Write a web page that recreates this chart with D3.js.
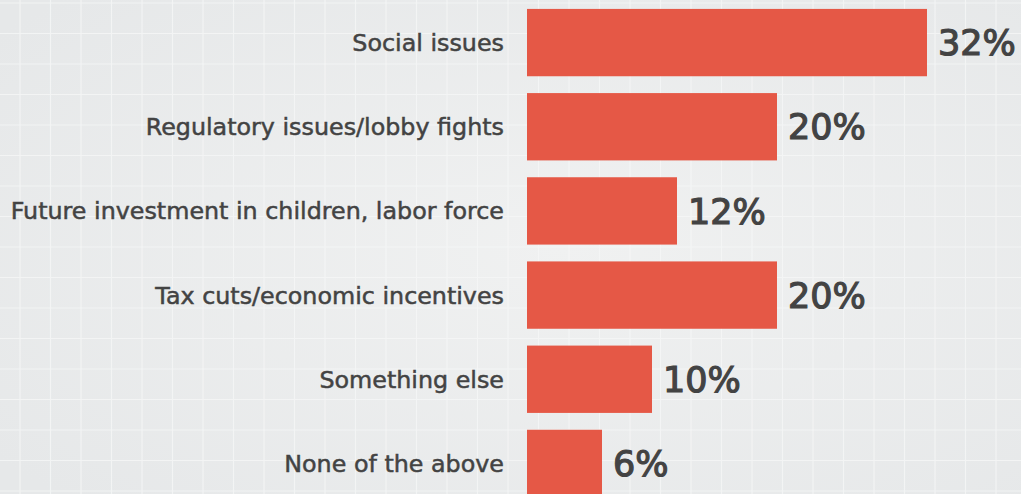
<!DOCTYPE html>
<html><head><meta charset="utf-8">
<script src="https://cdn.jsdelivr.net/npm/d3@7"></script>
<style>body{margin:0;background:#eaeced;overflow:hidden}</style>
</head><body>
<svg id="c" width="1021" height="494"></svg>
<script>
const categories = ["Social issues","Regulatory issues/lobby fights","Future investment in children, labor force","Tax cuts/economic incentives","Something else","None of the above"];
const values = [32, 20, 12, 20, 10, 6];
const valueLabels = ["32%","20%","12%","20%","10%","6%"];

const W = 1021, H = 494;
const svg = d3.select("#c");
const defs = svg.append("defs");
const g0 = defs.append("radialGradient").attr("id","bg").attr("cx","0.55").attr("cy","0.5").attr("r","0.7");
g0.append("stop").attr("offset","0").attr("stop-color","#f0f1f1");
g0.append("stop").attr("offset","1").attr("stop-color","#e6e8e9");
svg.append("rect").attr("width",W).attr("height",H).attr("fill","url(#bg)");

// faint grid
const grid = svg.append("g").attr("stroke","#f6f7f7").attr("stroke-width",1.2).attr("opacity",0.8);
grid.selectAll("line.v").data(d3.range(20, W, 30.5)).join("line")
  .attr("x1",d=>d).attr("x2",d=>d).attr("y1",0).attr("y2",H);
grid.selectAll("line.h").data(d3.range(3, H, 30.5)).join("line")
  .attr("y1",d=>d).attr("y2",d=>d).attr("x1",0).attr("x2",W);

const x = d3.scaleLinear().domain([0, 32]).range([527, 927]);
const y = d3.scaleBand().domain(categories).range([0.5, 505.5]).paddingInner(0.2).paddingOuter(0.1);

const g = svg.append("g");
g.selectAll("rect.bar").data(categories).join("rect")
  .attr("class","bar")
  .attr("x", x(0))
  .attr("y", d => y(d))
  .attr("width", (d,i) => x(values[i]) - x(0))
  .attr("height", y.bandwidth())
  .attr("fill", "#e55846");

g.selectAll("text.cat").data(categories).join("text")
  .attr("x", 504)
  .attr("y", d => y(d) + y.bandwidth()/2)
  .attr("dy", "0.36em")
  .attr("text-anchor","end")
  .attr("font-family","DejaVu Sans, sans-serif")
  .attr("font-size", 23.8)
  .attr("fill","#434343")
  .attr("stroke","#434343").attr("stroke-width",0.5)
  .text(d => d);

g.selectAll("text.val").data(categories).join("text")
  .attr("x", (d,i) => x(values[i]) + 11)
  .attr("y", d => y(d) + y.bandwidth()/2)
  .attr("dy", "0.36em")
  .attr("font-family","DejaVu Sans, sans-serif")
  .attr("font-size", 35)
  .attr("fill","#434343")
  .attr("stroke","#434343").attr("stroke-width",1.2)
  .text((d,i) => valueLabels[i]);
</script>
</body></html>
